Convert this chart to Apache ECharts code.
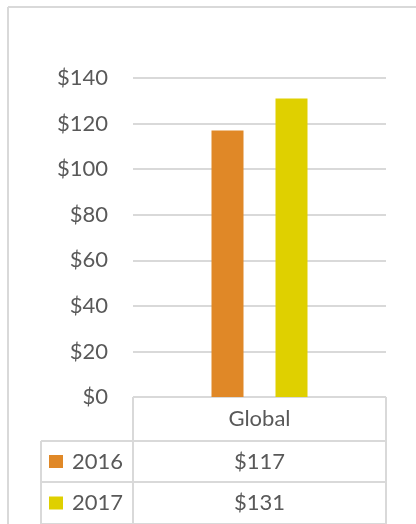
<!DOCTYPE html>
<html>
<head>
<meta charset="utf-8">
<script src="https://cdn.jsdelivr.net/npm/echarts@6/dist/echarts.min.js"></script>
<style>
html, body { margin: 0; padding: 0; background: #fff; }
#main { width: 416px; height: 524px; }
</style>
</head>
<body>
<div id="main"></div>
<script>
var categories = ['Global'];
var seriesNames = ['2016', '2017'];
var values2016 = [117];
var values2017 = [131];
var colors = ['#E08827', '#DFD000'];

var chart = echarts.init(document.getElementById('main'));

// layout of plot + data table (pixels)
var L = 133, R = 386, T = 78, B = 397;
var rowH = [44, 41, 42];
var legL = 41;
var lineCol = '#d9d9d9';
var txtCol = '#595959';
var font = '22px Lato, "Open Sans", sans-serif';

function fmt(v) { return '$' + v; }

var g = [];
// outer chart border (top + left)
g.push({ type: 'line', shape: { x1: 8, y1: 7, x2: 416, y2: 7 }, style: { stroke: lineCol, lineWidth: 2 } });
g.push({ type: 'line', shape: { x1: 8, y1: 7, x2: 8, y2: 524 }, style: { stroke: lineCol, lineWidth: 2 } });

// table lines
var y0 = B, y1 = B + rowH[0], y2 = y1 + rowH[1], y3 = y2 + rowH[2];
[[L, y0, R, y0], [legL, y1, R, y1], [legL, y2, R, y2], [legL, y3, R, y3],
 [L, y0, L, y3], [R, y0, R, y3], [legL, y1, legL, y3]].forEach(function (s) {
  g.push({ type: 'line', shape: { x1: s[0], y1: s[1], x2: s[2], y2: s[3] }, style: { stroke: lineCol, lineWidth: 2 } });
});

var cx = (L + R) / 2;
g.push({ type: 'text', style: { text: categories[0], x: cx, y: (y0 + y1) / 2, align: 'center', verticalAlign: 'middle', fill: txtCol, font: font } });
var rowVals = [values2016, values2017];
var rowMid = [(y1 + y2) / 2, (y2 + y3) / 2];
seriesNames.forEach(function (n, i) {
  g.push({ type: 'rect', shape: { x: 49, y: rowMid[i] - 6.5, width: 14, height: 13 }, style: { fill: colors[i] } });
  g.push({ type: 'text', style: { text: n, x: 72, y: rowMid[i], align: 'left', verticalAlign: 'middle', fill: txtCol, font: font } });
  g.push({ type: 'text', style: { text: fmt(rowVals[i][0]), x: cx, y: rowMid[i], align: 'center', verticalAlign: 'middle', fill: txtCol, font: font } });
});

var option = {
  animation: false,
  grid: { left: L, right: 416 - R, top: T, bottom: 524 - B },
  xAxis: {
    type: 'category',
    data: categories,
    axisLine: { show: false },
    axisTick: { show: false },
    axisLabel: { show: false }
  },
  yAxis: {
    type: 'value',
    min: 0, max: 140, interval: 20,
    axisLine: { show: false },
    axisTick: { show: false },
    axisLabel: {
      formatter: fmt,
      color: txtCol,
      fontFamily: 'Lato, "Open Sans", sans-serif',
      fontSize: 22,
      margin: 25
    },
    splitLine: { lineStyle: { color: lineCol, width: 2 } }
  },
  series: [
    { name: seriesNames[0], type: 'bar', data: values2016, barWidth: 32, barGap: '100%', itemStyle: { color: colors[0] } },
    { name: seriesNames[1], type: 'bar', data: values2017, barWidth: 32, itemStyle: { color: colors[1] } }
  ],
  graphic: g
};
chart.setOption(option);
</script>
</body>
</html>
